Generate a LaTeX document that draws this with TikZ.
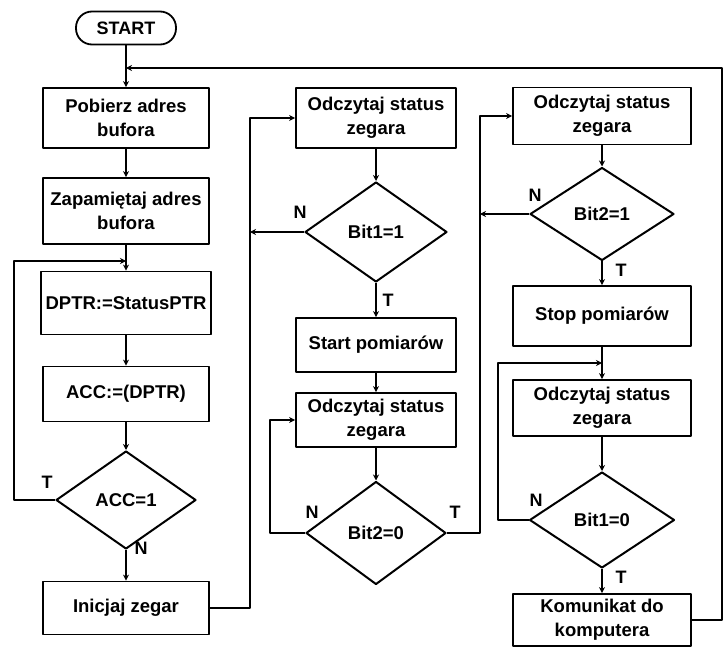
\documentclass[tikz,border=0pt]{standalone}
\usepackage{fontspec}
\setmainfont{Liberation Sans}
\usetikzlibrary{shapes.geometric, arrows.meta}
\begin{document}
\begin{tikzpicture}[x=1pt, y=-1pt, line join=round, >={Stealth[length=6pt, width=6pt]},
	blok/.style={draw, line width=1.8pt, minimum width=166pt, align=center, inner sep=1pt,
		font=\fontsize{18.5}{24}\selectfont\bfseries},
	kol2/.style={blok, minimum width=160pt},
	kol3/.style={blok, minimum width=178pt},
	term/.style={draw, line width=1.8pt, rounded corners=16pt, minimum width=100pt, minimum height=33pt,
		font=\fontsize{18}{20}\selectfont\bfseries},
	war/.style={draw, diamond, line width=2pt, inner sep=0pt, font=\fontsize{18.5}{20}\selectfont\bfseries},
	pol/.style={line width=1.9pt},
	etk/.style={font=\fontsize{18}{20}\selectfont\bfseries}]
	\useasboundingbox (0,0) rectangle (726,647);
	
	% kolumna 1
	\node[term] (start) at (126,28) {START};
	\node[blok, minimum height=60pt] (pob) at (126,118) {Pobierz adres\\bufora};
	\node[blok, minimum height=66pt] (zap) at (126,211) {Zapamiętaj adres\\bufora};
	\node[blok, minimum width=170pt, minimum height=63pt] (dptr) at (126,303) {DPTR:=StatusPTR};
	\node[blok, minimum height=55pt] (acc) at (126,394) {ACC:=(DPTR)};
	\node[war, minimum width=140pt, minimum height=98pt] (acc1) at (126,500) {ACC=1};
	\node[blok, minimum height=53pt] (inic) at (126,608) {Inicjaj zegar};
	
	% kolumna 2
	\node[kol2, minimum height=60pt] (odc1) at (376,118) {Odczytaj status\\zegara};
	\node[war, minimum width=142pt, minimum height=100pt] (b11) at (376,232) {Bit1=1};
	\node[kol2, minimum height=54pt] (startp) at (376,345) {Start pomiarów};
	\node[kol2, minimum height=54pt] (odc2) at (376,420) {Odczytaj status\\zegara};
	\node[war, minimum width=140pt, minimum height=103pt] (b20) at (376,533) {Bit2=0};
	
	% kolumna 3
	\node[kol3, minimum height=57pt] (odc3) at (602,116) {Odczytaj status\\zegara};
	\node[war, minimum width=144pt, minimum height=93pt] (b21) at (602,214) {Bit2=1};
	\node[kol3, minimum height=60pt] (stopp) at (602,316) {Stop pomiarów};
	\node[kol3, minimum height=56pt] (odc4) at (602,408) {Odczytaj status\\zegara};
	\node[war, minimum width=145pt, minimum height=96pt] (b10) at (602,520) {Bit1=0};
	\node[kol3, minimum height=52pt] (kom) at (602,620) {Komunikat do\\komputera};
	
	% punkty pomocnicze
	\coordinate (jret) at (126,68);
	\coordinate (r1) at (722,68);
	\coordinate (jdptr) at (126,261);
	\coordinate (v0) at (14,261);
	\coordinate (v1) at (250,118);
	\coordinate (jn1) at (250,232);
	\coordinate (v2) at (270,420);
	\coordinate (v3) at (480,116);
	\coordinate (jn2) at (480,214);
	\coordinate (jst) at (602,363);
	\coordinate (v4) at (498,363);
	
	% polaczenia w dol
	\foreach \a/\b in {start/pob, pob/zap, zap/dptr, dptr/acc, acc/acc1, acc1/inic,
		odc1/b11, b11/startp, startp/odc2, odc2/b20,
		odc3/b21, b21/stopp, stopp/odc4, odc4/b10, b10/kom} {
		\draw[pol, ->] (\a.south) -- (\b.north);
	}
	
	% petle i powroty
	\draw[pol, ->] (kom.east) -| (r1) -- (jret);
	\draw[pol, ->] (acc1.west) -| (v0) -- (jdptr);
	\draw[pol, ->] (inic.east) -| (v1) -- (odc1.west);
	\draw[pol, ->] (b11.west) -- (jn1);
	\draw[pol, ->] (b20.west) -| (v2) -- (odc2.west);
	\draw[pol, ->] (b20.east) -| (v3) -- (odc3.west);
	\draw[pol, ->] (b21.west) -- (jn2);
	\draw[pol, ->] (b10.west) -| (v4) -- (jst);
	
	% etykiety T/N
	\foreach \n/\x/\y/\t in {t1/47/482/T, n1/141/548/N, n2/300/212/N, t2/388/300/T,
		n3/312/512/N, t3/455/512/T, n4/535/195/N, t4/621/270/T, n5/536/500/N, t5/621/577/T} {
		\node[etk] (\n) at (\x,\y) {\t};
	}
\end{tikzpicture}
\end{document}
